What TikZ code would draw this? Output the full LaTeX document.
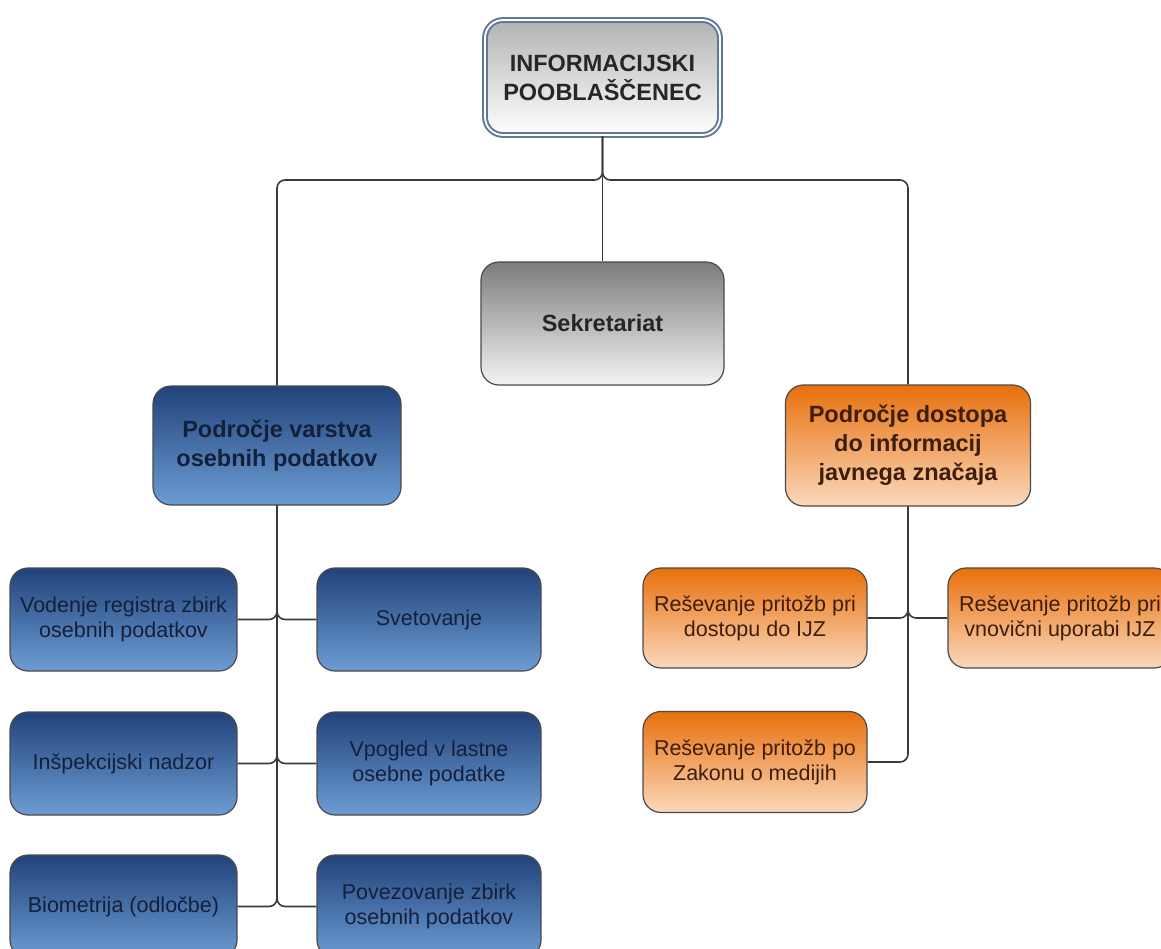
\documentclass[tikz,border=0pt]{standalone}
\usepackage{fontspec}
\setmainfont{Liberation Sans}
\usetikzlibrary{shadings}
\definecolor{bluetop}{HTML}{21437A}
\definecolor{bluebot}{HTML}{6C9CD4}
\definecolor{orgtop}{HTML}{E8700C}
\definecolor{orgbot}{HTML}{FAD8BC}
\definecolor{graytop}{HTML}{7C7C7C}
\definecolor{graybot}{HTML}{F4F4F4}
\definecolor{edge}{HTML}{4A4A4A}
\definecolor{linec}{HTML}{3A3A3A}
\definecolor{bluetxt}{HTML}{14203A}
\definecolor{orgtxt}{HTML}{3D1E0A}
\definecolor{topedge}{HTML}{627898}
\tikzset{
  box/.style={rectangle, rounded corners=18pt, draw=edge, line width=1.2pt,
    inner sep=0pt, align=center, anchor=center},
  head/.style={box, font=\fontsize{23.5}{29}\selectfont\bfseries},
  small/.style={box, font=\fontsize{21.5}{25}\selectfont},
  bluebox/.style={top color=bluetop, bottom color=bluebot, text=bluetxt},
  orgbox/.style={top color=orgtop, bottom color=orgbot, text=orgtxt},
  graybox/.style={top color=graytop, bottom color=graybot, text=black!85},
  conn/.style={draw=linec, line width=1.6pt, rounded corners=8pt},
}
\begin{document}
\begin{tikzpicture}[x=1pt, y=-1pt]
\clip (0,0) rectangle (1161,948);
\fill[white] (0,0) rectangle (1161,948);
% top level
\node[head, top color=black!30, bottom color=white, text=black!85,
  draw=topedge, double=white, double distance=1.8pt, line width=2pt,
  minimum width=235pt, minimum height=115pt] (top) at (602.5,77.5)
  {INFORMACIJSKI\\POOBLAŠČENEC};
\node[head, graybox, minimum width=243pt, minimum height=123pt] (sek) at (602.5,323.5) {Sekretariat};
\node[head, bluebox, minimum width=248pt, minimum height=119pt] (vpd) at (277,445.5)
  {Področje varstva\\osebnih podatkov};
\node[head, orgbox, minimum width=245pt, minimum height=121pt] (dost) at (908,445.5)
  {Področje dostopa\\do informacij\\javnega značaja};
\coordinate (bus) at (602.5,180);
% blue children
\node[small, bluebox, minimum width=227pt, minimum height=103pt] (c1) at (123.5,619.5)
  {Vodenje registra zbirk\\osebnih podatkov};
\node[small, bluebox, minimum width=224pt, minimum height=103pt] (c2) at (429,619.5)
  {Svetovanje};
\node[small, bluebox, minimum width=227pt, minimum height=103pt] (c3) at (123.5,763.5)
  {Inšpekcijski nadzor};
\node[small, bluebox, minimum width=224pt, minimum height=103pt] (c4) at (429,763.5)
  {Vpogled v lastne\\osebne podatke};
\node[small, bluebox, minimum width=227pt, minimum height=103pt] (c5) at (123.5,906.5)
  {Biometrija (odločbe)};
\node[small, bluebox, minimum width=224pt, minimum height=103pt] (c6) at (429,906.5)
  {Povezovanje zbirk\\osebnih podatkov};
% orange children
\node[small, orgbox, minimum width=224pt, minimum height=100pt] (o1) at (755,618)
  {Reševanje pritožb pri\\dostopu do IJZ};
\node[small, orgbox, minimum width=224pt, minimum height=100pt] (o2) at (1060,618)
  {Reševanje pritožb pri\\vnovični uporabi IJZ};
\node[small, orgbox, minimum width=224pt, minimum height=101pt] (o3) at (755,762)
  {Reševanje pritožb po\\Zakonu o medijih};
% connectors
\draw[conn] (top.south) -- (bus) -| (vpd.north);
\draw[conn] (top.south) -- (bus) -| (dost.north);
\draw[conn] (top.south) -- (sek.north);
\foreach \c in {c1,c3,c5} \draw[conn] (vpd.south) |- (\c.east);
\foreach \c in {c2,c4,c6} \draw[conn] (vpd.south) |- (\c.west);
\draw[conn] (dost.south) |- (o1.east);
\draw[conn] (dost.south) |- (o3.east);
\draw[conn] (dost.south) |- (o2.west);
\end{tikzpicture}
\end{document}
